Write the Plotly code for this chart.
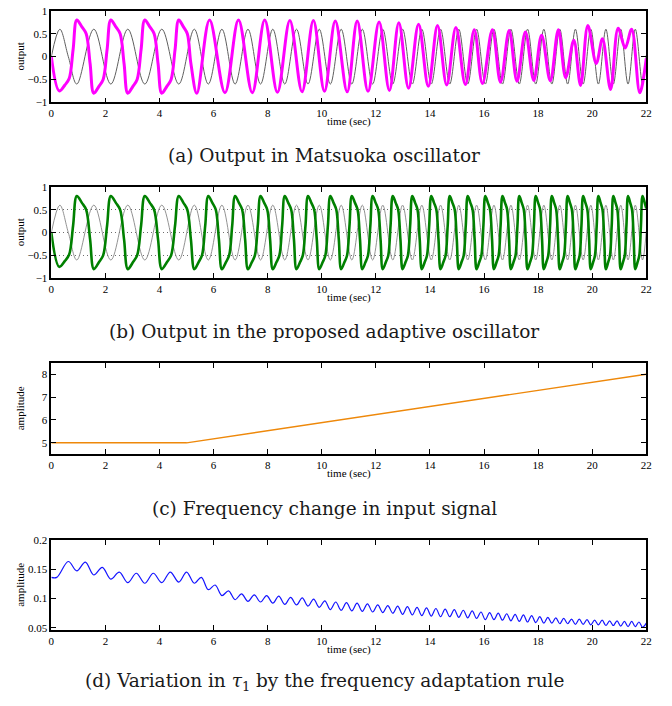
import plotly.graph_objects as go

# ------------------------------------------------------------------ data
time_ticks = [0, 2, 4, 6, 8, 10, 12, 14, 16, 18, 20, 22]

# (c) input frequency profile
freq_t = [0.0, 5.0, 22.0]
freq_v = [5.0, 5.0, 8.0]

# input signal (thin grey curve in a and b): extrema
gray_t = [0.0, 0.314, 0.628, 0.942, 1.571, 2.199, 2.827, 3.456, 4.084, 4.712, 5.287, 5.804,
          6.307, 6.795, 7.271, 7.736, 8.189, 8.632, 9.066, 9.491, 9.908, 10.317, 10.718,
          11.112, 11.499, 11.881, 12.256, 12.625, 12.989, 13.347, 13.700, 14.049, 14.393,
          14.732, 15.067, 15.398, 15.725, 16.048, 16.367, 16.683, 16.995, 17.304, 17.610,
          17.912, 18.212, 18.508, 18.802, 19.092, 19.380, 19.666, 19.949, 20.229, 20.507,
          20.782, 21.055, 21.326, 21.595, 21.862, 22.0]
gray_v = [0.0, 0.6, 0.0, -0.6, 0.6, -0.6, 0.6, -0.6, 0.6, -0.6, 0.6, -0.6,
          0.6, -0.6, 0.6, -0.6, 0.6, -0.6, 0.6, -0.6, 0.6, -0.6, 0.6,
          -0.6, 0.6, -0.6, 0.6, -0.6, 0.6, -0.6, 0.6, -0.6, 0.6,
          -0.6, 0.6, -0.6, 0.6, -0.6, 0.6, -0.6, 0.6, -0.6, 0.6,
          -0.6, 0.6, -0.6, 0.6, -0.6, 0.6, -0.6, 0.6, -0.6, 0.6,
          -0.6, 0.6, -0.6, 0.6, -0.6, 0.03]

# (b) adaptive oscillator output: extremum, slope, shoulder and mid-edge points
green_t = [0.0,
           0.29, 0.502, 0.659, 0.804, 0.942, 1.131, 1.288, 1.433,
           1.571, 1.759, 1.916, 2.061, 2.199, 2.387, 2.544, 2.689,
           2.827, 3.016, 3.173, 3.318, 3.456, 3.644, 3.801, 3.946,
           4.084, 4.272, 4.429, 4.574, 4.712, 4.885, 5.028, 5.161,
           5.287, 5.442, 5.571, 5.690, 5.804, 5.955, 6.081, 6.196,
           6.307, 6.453, 6.575, 6.688, 6.795, 6.938, 7.057, 7.166,
           7.271, 7.411, 7.527, 7.634, 7.736, 7.872, 7.985, 8.089,
           8.189, 8.322, 8.433, 8.535, 8.632, 8.762, 8.871, 8.971,
           9.066, 9.194, 9.300, 9.398, 9.491, 9.616, 9.720, 9.816,
           9.908, 10.031, 10.133, 10.227, 10.317, 10.437, 10.538, 10.630,
           10.718, 10.836, 10.935, 11.025, 11.112, 11.228, 11.325, 11.414,
           11.499, 11.614, 11.709, 11.797, 11.881, 11.994, 12.087, 12.174,
           12.256, 12.367, 12.459, 12.544, 12.625, 12.734, 12.825, 12.909,
           12.989, 13.096, 13.186, 13.268, 13.347, 13.453, 13.541, 13.622,
           13.700, 13.805, 13.892, 13.972, 14.049, 14.152, 14.238, 14.317,
           14.393, 14.495, 14.579, 14.657, 14.732, 14.833, 14.916, 14.993,
           15.067, 15.166, 15.249, 15.325, 15.398, 15.496, 15.578, 15.653,
           15.725, 15.822, 15.903, 15.977, 16.048, 16.144, 16.223, 16.297,
           16.367, 16.462, 16.541, 16.613, 16.683, 16.777, 16.855, 16.926,
           16.995, 17.088, 17.165, 17.236, 17.304, 17.396, 17.472, 17.543,
           17.610, 17.701, 17.776, 17.846, 17.912, 18.002, 18.077, 18.146,
           18.212, 18.301, 18.375, 18.443, 18.508, 18.596, 18.670, 18.737,
           18.802, 18.889, 18.962, 19.028, 19.092, 19.178, 19.250, 19.317,
           19.380, 19.466, 19.537, 19.603, 19.666, 19.751, 19.822, 19.887,
           19.949, 20.033, 20.103, 20.167, 20.229, 20.312, 20.382, 20.446,
           20.507, 20.590, 20.658, 20.722, 20.782, 20.864, 20.932, 20.995,
           21.055, 21.136, 21.204, 21.266, 21.326, 21.407, 21.474, 21.536,
           21.595, 21.675, 21.742, 21.803, 21.862, 21.942,
           22.0]
green_v = [0.0,
           -0.75, -0.62, -0.48, 0.15,
           0.80, 0.65, 0.50, -0.15, -0.80, -0.65, -0.50, 0.15,
           0.80, 0.65, 0.50, -0.15, -0.80, -0.65, -0.50, 0.15,
           0.80, 0.65, 0.50, -0.15, -0.80, -0.65, -0.50, 0.15,
           0.80, 0.65, 0.50, -0.15, -0.80, -0.65, -0.50, 0.15,
           0.80, 0.65, 0.50, -0.15, -0.80, -0.65, -0.50, 0.15,
           0.80, 0.65, 0.50, -0.15, -0.80, -0.65, -0.50, 0.15,
           0.80, 0.65, 0.50, -0.15, -0.80, -0.65, -0.50, 0.15,
           0.80, 0.65, 0.50, -0.15, -0.80, -0.65, -0.50, 0.15,
           0.80, 0.65, 0.50, -0.15, -0.80, -0.65, -0.50, 0.15,
           0.80, 0.65, 0.50, -0.15, -0.80, -0.65, -0.50, 0.15,
           0.80, 0.65, 0.50, -0.15, -0.80, -0.65, -0.50, 0.15,
           0.80, 0.65, 0.50, -0.15, -0.80, -0.65, -0.50, 0.15,
           0.80, 0.65, 0.50, -0.15, -0.80, -0.65, -0.50, 0.15,
           0.80, 0.65, 0.50, -0.15, -0.80, -0.65, -0.50, 0.15,
           0.80, 0.65, 0.50, -0.15, -0.80, -0.65, -0.50, 0.15,
           0.80, 0.65, 0.50, -0.15, -0.80, -0.65, -0.50, 0.15,
           0.80, 0.65, 0.50, -0.15, -0.80, -0.65, -0.50, 0.15,
           0.80, 0.65, 0.50, -0.15, -0.80, -0.65, -0.50, 0.15,
           0.80, 0.65, 0.50, -0.15, -0.80, -0.65, -0.50, 0.15,
           0.80, 0.65, 0.50, -0.15, -0.80, -0.65, -0.50, 0.15,
           0.80, 0.65, 0.50, -0.15, -0.80, -0.65, -0.50, 0.15,
           0.80, 0.65, 0.50, -0.15, -0.80, -0.65, -0.50, 0.15,
           0.80, 0.65, 0.50, -0.15, -0.80, -0.65, -0.50, 0.15,
           0.80, 0.65, 0.50, -0.15, -0.80, -0.65, -0.50, 0.15,
           0.80, 0.65, 0.50, -0.15, -0.80, -0.65, -0.50, 0.15,
           0.80, 0.65, 0.50, -0.15, -0.80, -0.65, -0.50, 0.15,
           0.80, 0.65, 0.50, -0.15, -0.80, -0.65, -0.50, 0.15,
           0.80, 0.65,
           0.53]

# (a) Matsuoka oscillator output
mag_t = [0.0,
         0.29, 0.502, 0.659, 0.804, 0.942, 1.131, 1.288, 1.433,
         1.571, 1.759, 1.916, 2.061, 2.199, 2.387, 2.544, 2.689,
         2.827, 3.016, 3.173, 3.318, 3.456, 3.644, 3.801, 3.946,
         4.084, 4.272, 4.429, 4.574, 4.712, 4.885, 5.028, 5.161,
         5.38, 5.85, 6.42, 6.92, 7.43, 7.89, 8.36, 8.82, 9.27, 9.69,
         10.10, 10.50, 10.94, 11.31, 11.71, 12.12, 12.50, 12.85, 13.21, 13.58,
         13.94, 14.28, 14.62, 14.96, 15.31, 15.64, 15.94, 16.31, 16.61, 16.93,
         17.22, 17.53, 17.84, 18.13, 18.45, 18.75, 19.02, 19.32, 19.57, 19.84,
         20.15, 20.38, 20.68, 20.96, 21.22, 21.46, 21.76, 22.0]
mag_v = [0.0,
         -0.75, -0.62, -0.48, 0.15, 0.80, 0.65, 0.50, -0.15,
         -0.80, -0.65, -0.50, 0.15, 0.80, 0.65, 0.50, -0.15,
         -0.80, -0.65, -0.50, 0.15, 0.80, 0.65, 0.50, -0.15,
         -0.80, -0.65, -0.50, 0.15, 0.80, 0.65, 0.50, -0.15,
         -0.80, 0.80, -0.79, 0.80, -0.79, 0.80, -0.78, 0.79, -0.77, 0.79,
         -0.76, 0.78, -0.77, 0.78, -0.76, 0.76, -0.74, 0.74, -0.69, 0.71,
         -0.65, 0.68, -0.62, 0.64, -0.61, 0.59, -0.59, 0.59, -0.56, 0.57,
         -0.54, 0.54, -0.52, 0.47, -0.53, 0.59, -0.46, 0.36, -0.63, 0.68,
         -0.15, 0.39, -0.72, 0.62, 0.19, 0.60, -0.79, -0.04]

# (d) tau_1 adaptation
tau_t = [0.0, 0.20, 0.628, 0.942, 1.257, 1.571, 1.885, 2.199, 2.513, 2.827, 3.142, 3.456,
         3.770, 4.084, 4.398, 4.712, 5.000, 5.287, 5.545, 5.804, 6.055, 6.307, 6.551,
         6.795, 7.033, 7.271, 7.503, 7.736, 7.962, 8.189, 8.410, 8.632, 8.849, 9.066,
         9.278, 9.491, 9.699, 9.908, 10.112, 10.317, 10.517, 10.718, 10.915, 11.112,
         11.306, 11.499, 11.690, 11.881, 12.069, 12.256, 12.441, 12.625, 12.807, 12.989,
         13.168, 13.347, 13.524, 13.700, 13.875, 14.049, 14.221, 14.393, 14.563, 14.732,
         14.900, 15.067, 15.233, 15.398, 15.562, 15.725, 15.887, 16.048, 16.208, 16.367,
         16.525, 16.683, 16.839, 16.995, 17.150, 17.304, 17.457, 17.610, 17.761, 17.912,
         18.062, 18.212, 18.360, 18.508, 18.655, 18.802, 18.947, 19.092, 19.236, 19.380,
         19.523, 19.666, 19.808, 19.949, 20.089, 20.229, 20.368, 20.507, 20.645, 20.782,
         20.919, 21.055, 21.191, 21.326, 21.461, 21.595, 21.729, 21.862, 22.0]
tau_v = [0.136, 0.136, 0.163, 0.147, 0.162, 0.140, 0.153, 0.133, 0.145, 0.127, 0.143, 0.126,
         0.143, 0.127, 0.145, 0.128, 0.145, 0.126, 0.136, 0.115, 0.123, 0.105, 0.113,
         0.098, 0.108, 0.095, 0.106, 0.094, 0.105, 0.092, 0.104, 0.090, 0.102, 0.089,
         0.101, 0.087, 0.099, 0.085, 0.096, 0.081, 0.094, 0.080, 0.093, 0.079,
         0.092, 0.078, 0.091, 0.077, 0.089, 0.076, 0.088, 0.075, 0.087, 0.073,
         0.086, 0.072, 0.085, 0.071, 0.084, 0.070, 0.083, 0.069, 0.082, 0.069,
         0.081, 0.068, 0.080, 0.067, 0.079, 0.066, 0.077, 0.064, 0.076, 0.064,
         0.075, 0.063, 0.074, 0.062, 0.073, 0.061, 0.072, 0.060, 0.071, 0.059,
         0.069, 0.058, 0.068, 0.058, 0.067, 0.057, 0.066, 0.057, 0.065, 0.056,
         0.065, 0.056, 0.064, 0.055, 0.063, 0.055, 0.063, 0.054, 0.062, 0.054,
         0.062, 0.053, 0.061, 0.052, 0.061, 0.052, 0.060, 0.051, 0.058]

for a, b, n in [(gray_t, gray_v, 'gray'), (green_t, green_v, 'green'),
                (mag_t, mag_v, 'mag'), (tau_t, tau_v, 'tau')]:
    assert len(a) == len(b), (n, len(a), len(b))

# ------------------------------------------------------------------ layout helpers
W, H = 672, 706
X0, X1 = 49, 652
PANELS = [(5, 98), (184, 277), (363, 456), (543, 635)]


def pxx(x):
    return x / W


def pxy(y):
    return 1 - y / H


TICKFONT = dict(family="Liberation Serif, Times New Roman, serif", size=11, color="black")
LABFONT = dict(family="Liberation Serif, Times New Roman, serif", size=11, color="black")
CAPFONT = dict(family="DejaVu Serif, serif", size=18.5, color="#1a1a1a")

fig = go.Figure()

# panel (a)
fig.add_trace(go.Scatter(x=gray_t, y=gray_v, mode="lines", xaxis="x", yaxis="y",
                         line=dict(color="rgb(95,95,95)", width=1, shape="spline")))
fig.add_trace(go.Scatter(x=mag_t, y=mag_v, mode="lines", xaxis="x", yaxis="y",
                         line=dict(color="#FF00FF", width=3, shape="spline")))
# panel (b)
fig.add_trace(go.Scatter(x=gray_t, y=gray_v, mode="lines", xaxis="x2", yaxis="y2",
                         line=dict(color="rgb(135,135,135)", width=0.9, shape="spline")))
fig.add_trace(go.Scatter(x=green_t, y=green_v, mode="lines", xaxis="x2", yaxis="y2",
                         line=dict(color="rgb(0,128,0)", width=2.6, shape="spline")))
# panel (c)
fig.add_trace(go.Scatter(x=freq_t, y=freq_v, mode="lines", xaxis="x3", yaxis="y3",
                         line=dict(color="rgb(238,136,10)", width=1.4)))
# panel (d)
fig.add_trace(go.Scatter(x=tau_t, y=tau_v, mode="lines", xaxis="x4", yaxis="y4",
                         line=dict(color="rgb(20,20,255)", width=1.2, shape="spline")))

axis_common = dict(showline=True, linecolor="black", linewidth=1.6, mirror="ticks",
                   ticks="inside", ticklen=5, tickwidth=1, tickcolor="black",
                   zeroline=False, tickfont=TICKFONT, fixedrange=True)

y_specs = [
    dict(range=[-1, 1], tickvals=[-1, -0.5, 0, 0.5, 1], ticktext=["\u22121", "\u22120.5", "0", "0.5", "1"],
         showgrid=False),
    dict(range=[-1, 1], tickvals=[-1, -0.5, 0, 0.5, 1], ticktext=["\u22121", "\u22120.5", "0", "0.5", "1"],
         showgrid=True, gridcolor="rgb(110,110,110)", griddash="1px,3px", gridwidth=1),
    dict(range=[4.5, 8.5], tickvals=[5, 6, 7, 8], ticktext=["5", "6", "7", "8"], showgrid=False),
    dict(range=[0.046, 0.2], tickvals=[0.05, 0.1, 0.15, 0.2], ticktext=["0.05", "0.1", "0.15", "0.2"],
         showgrid=False),
]

layout_axes = {}
for i, (top, bot) in enumerate(PANELS):
    n = "" if i == 0 else str(i + 1)
    layout_axes["xaxis" + n] = dict(domain=[pxx(X0), pxx(X1)], anchor="y" + n, range=[0, 22],
                                    tickvals=time_ticks, ticktext=[str(v) for v in time_ticks],
                                    showgrid=False, **axis_common)
    layout_axes["yaxis" + n] = dict(domain=[pxy(bot), pxy(top)], anchor="x" + n,
                                    **y_specs[i], **axis_common)

ylabels = ["output", "output", "amplitude", "amplitude"]
captions = [
    "(a) Output in Matsuoka oscillator",
    "(b) Output in the proposed adaptive oscillator",
    "(c) Frequency change in input signal",
    "(d) Variation in <i>\u03c4</i><sub>1</sub> by the frequency adaptation rule",
]
cap_y = [152, 331, 511, 688]

annotations = []
for i, (top, bot) in enumerate(PANELS):
    annotations.append(dict(text=ylabels[i], x=pxx(17), y=pxy((top + bot) / 2), xref="paper", yref="paper",
                            showarrow=False, textangle=-90, font=LABFONT, xanchor="center", yanchor="middle"))
    annotations.append(dict(text="time (sec)", x=pxx((X0 + X1) / 2), y=pxy(bot + 20), xref="paper",
                            yref="paper", showarrow=False, font=LABFONT, xanchor="center", yanchor="middle"))
    annotations.append(dict(text=captions[i], x=pxx(325.5), y=pxy(cap_y[i]), xref="paper", yref="paper",
                            showarrow=False, font=CAPFONT, xanchor="center", yanchor="middle"))

fig.update_layout(width=W, height=H, margin=dict(l=0, r=0, t=0, b=0),
                  paper_bgcolor="white", plot_bgcolor="white", showlegend=False,
                  annotations=annotations, **layout_axes)

fig.write_html("out.html", config={"displayModeBar": False})
